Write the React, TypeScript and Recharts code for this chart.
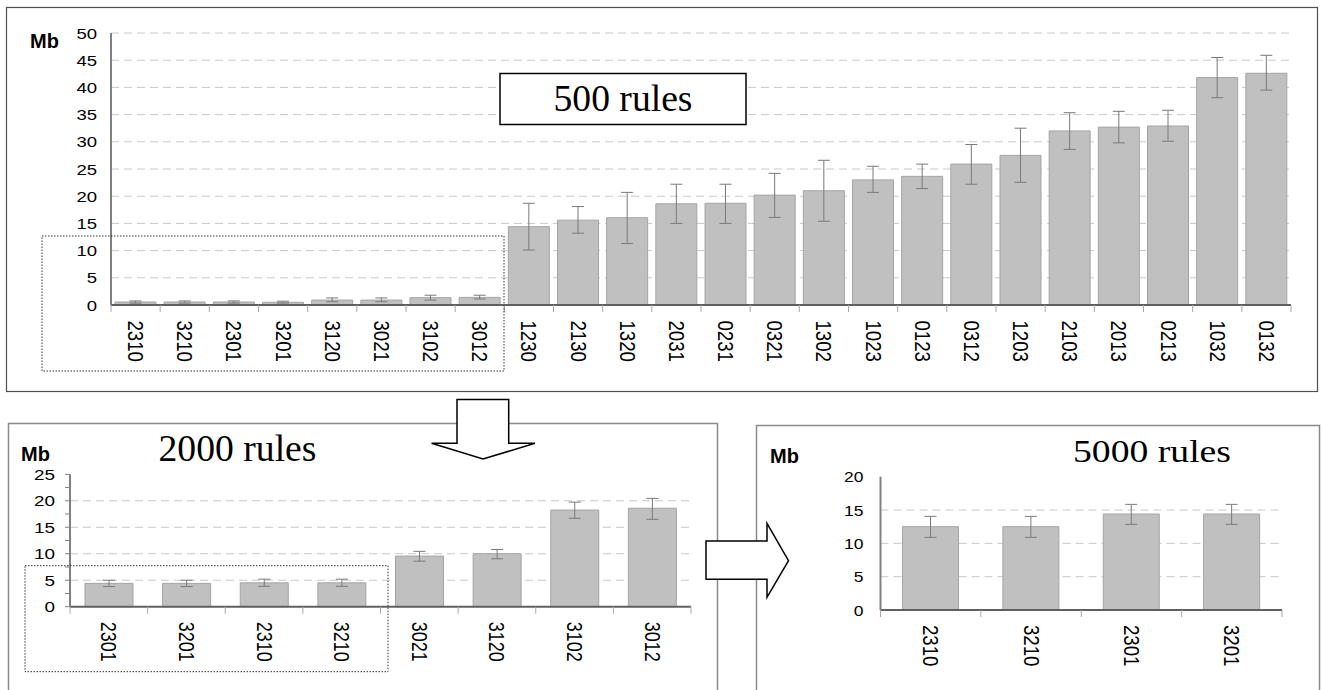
import React from 'react';
import { BarChart, Bar, XAxis, YAxis, CartesianGrid, ErrorBar } from 'recharts';

// ---------- data ----------
const topCategories = ['2310', '3210', '2301', '3201', '3120', '3021', '3102', '3012', '1230', '2130', '1320', '2031', '0231', '0321', '1302', '1023', '0123', '0312', '1203', '2103', '2013', '0213', '1032', '0132'];
const topValues = [0.55, 0.55, 0.55, 0.5, 0.9, 0.9, 1.35, 1.4, 14.4, 15.6, 16.05, 18.6, 18.7, 20.2, 21.0, 23.0, 23.65, 25.9, 27.5, 32.0, 32.7, 32.9, 41.8, 42.6];
const topUpper = [0.75, 0.75, 0.75, 0.7, 1.3, 1.3, 1.8, 1.8, 18.7, 18.1, 20.7, 22.2, 22.2, 24.2, 26.6, 25.5, 25.9, 29.5, 32.5, 35.35, 35.6, 35.8, 45.5, 45.9];
const topLower = [0.35, 0.35, 0.35, 0.35, 0.6, 0.6, 0.9, 1.1, 10.1, 13.2, 11.3, 15.0, 15.0, 16.1, 15.4, 20.7, 21.4, 22.2, 22.55, 28.6, 29.8, 30.1, 38.1, 39.5];
const topTicks = [0, 5, 10, 15, 20, 25, 30, 35, 40, 45, 50];

const midCategories = ['2301', '3201', '2310', '3210', '3021', '3120', '3102', '3012'];
const midValues = [4.4, 4.4, 4.5, 4.5, 9.55, 10.0, 18.25, 18.6];
const midUpper = [5.0, 5.0, 5.2, 5.2, 10.45, 10.8, 19.75, 20.45];
const midLower = [3.8, 3.8, 3.85, 3.85, 8.6, 9.05, 16.7, 16.5];
const midTicks = [0, 2.5, 5, 7.5, 10, 12.5, 15, 17.5, 20, 22.5, 25];
const midGrid = [5, 10, 15, 20];

const rightCategories = ['2310', '3210', '2301', '3201'];
const rightValues = [12.5, 12.5, 14.4, 14.4];
const rightUpper = [14.05, 14.05, 15.85, 15.85];
const rightLower = [10.9, 10.9, 12.85, 12.85];
const rightTicks = [0, 5, 10, 15, 20];
const rightGrid = [5, 10, 15];

const titleTop = '500 rules';
const titleMid = '2000 rules';
const titleRight = '5000 rules';
const unitLabel = 'Mb';

const SANS = '"Liberation Sans", Arial, sans-serif';
const SERIF = '"Liberation Serif", "Times New Roman", serif';

function buildRows(cats: string[], vals: number[], up: number[], lo: number[]) {
  return cats.map((c, i) => ({ name: c, value: vals[i], err: [vals[i] - lo[i], up[i] - vals[i]] }));
}

type PanelProps = {
  left: number; top: number; width: number; height: number;
  margin: { top: number; right: number; bottom: number; left: number };
  yWidth: number;
  rows: any[];
  domain: [number, number];
  ticks: number[];
  gridValues: number[];
  barSize: number;
  capWidth: number;
  yFont: number;
  yDigit: number;
  xFont: number;
  xLen: number;
  labelOffset: number;
  yTickSize: number;
  yTickMargin: number;
  yTickLine: boolean;
};

function Panel(p: PanelProps) {
  const n = p.rows.length;
  const plotW = p.width - p.margin.left - p.margin.right - p.yWidth;
  const band = plotW / n;
  const XTick = (props: any) => {
    const { x, y, payload, index } = props;
    const ty = y + p.labelOffset;
    return (
      <g>
        <line x1={x - band / 2} y1={y} x2={x - band / 2} y2={y + 7} stroke="#a8a8a8" strokeWidth={1} />
        {index === n - 1 ? (
          <line x1={x + band / 2} y1={y} x2={x + band / 2} y2={y + 7} stroke="#a8a8a8" strokeWidth={1} />
        ) : null}
        <text
          x={x}
          y={ty}
          transform={`rotate(90 ${x} ${ty})`}
          textAnchor="start"
          dominantBaseline="central"
          fontSize={p.xFont}
          fontFamily={SANS}
          textLength={p.xLen}
          lengthAdjust="spacingAndGlyphs"
          fill="#000"
        >
          {payload.value}
        </text>
      </g>
    );
  };
  const YTick = (props: any) => {
    const { x, y, payload } = props;
    const v = payload.value as number;
    if (v % 5 !== 0) return <g />;
    const s = String(v);
    return (
      <text
        x={x}
        y={y}
        textAnchor="end"
        dominantBaseline="central"
        fontSize={p.yFont}
        fontFamily={SANS}
        textLength={s.length * p.yDigit}
        lengthAdjust="spacingAndGlyphs"
        fill="#000"
      >
        {s}
      </text>
    );
  };
  return (
    <div style={{ position: 'absolute', left: p.left, top: p.top, width: p.width, height: p.height }}>
      <BarChart width={p.width} height={p.height} data={p.rows} margin={p.margin}>
        <CartesianGrid vertical={false} horizontalValues={p.gridValues} stroke="#c8c8c8" strokeDasharray="8 5" />
        <XAxis
          dataKey="name"
          interval={0}
          height={60}
          tickSize={0}
          tickMargin={0}
          tickLine={false}
          tick={<XTick />}
          axisLine={{ stroke: '#606060', strokeWidth: 2 }}
        />
        <XAxis
          xAxisId="frameTop"
          dataKey="name"
          orientation="top"
          height={0}
          tick={false}
          tickLine={false}
          axisLine={{ stroke: '#808080', strokeWidth: 2 }}
        />
        <YAxis
          width={p.yWidth}
          domain={p.domain}
          ticks={p.ticks}
          interval={0}
          tickSize={p.yTickSize}
          tickMargin={p.yTickMargin}
          tickLine={p.yTickLine ? { stroke: '#808080' } : false}
          tick={<YTick />}
          axisLine={{ stroke: '#808080', strokeWidth: 2 }}
        />
        <YAxis
          yAxisId="frameRight"
          orientation="right"
          width={0}
          domain={p.domain}
          tick={false}
          tickLine={false}
          axisLine={{ stroke: '#808080', strokeWidth: 2 }}
        />
        <Bar dataKey="value" fill="#c0c0c0" stroke="#a4a4a4" strokeWidth={1} barSize={p.barSize} isAnimationActive={false}>
          <ErrorBar dataKey="err" width={p.capWidth} stroke="#7a7a7a" strokeWidth={1} isAnimationActive={false} />
        </Bar>
      </BarChart>
    </div>
  );
}

export default function App() {
  const topRows = buildRows(topCategories, topValues, topUpper, topLower);
  const midRows = buildRows(midCategories, midValues, midUpper, midLower);
  const rightRows = buildRows(rightCategories, rightValues, rightUpper, rightLower);

  return (
    <div style={{ position: 'absolute', left: 0, top: 0, width: 1323, height: 690, background: '#fff', overflow: 'hidden' }}>
      {/* background frames */}
      <svg width={1323} height={690} style={{ position: 'absolute', left: 0, top: 0 }}>
        <rect x={6.5} y={7.5} width={1311} height={384} fill="none" stroke="#505050" strokeWidth={1.2} />
        <rect x={8.5} y={423.5} width={709} height={300} fill="none" stroke="#8a8a8a" strokeWidth={1.5} />
        <rect x={756.5} y={425.5} width={563} height={300} fill="none" stroke="#8a8a8a" strokeWidth={1.5} />
      </svg>

      <Panel
        left={0} top={0} width={1323} height={392}
        margin={{ top: 33, right: 32, bottom: 27, left: 61 }}
        yWidth={50}
        rows={topRows}
        domain={[0, 50]}
        ticks={topTicks}
        gridValues={topTicks}
        barSize={41}
        capWidth={6}
        yFont={15}
        yDigit={10.3}
        xFont={22}
        xLen={41.5}
        labelOffset={15.5}
        yTickSize={0}
        yTickMargin={14}
        yTickLine={false}
      />
      <Panel
        left={0} top={400} width={720} height={290}
        margin={{ top: 74.3, right: 29, bottom: 23.3, left: 30 }}
        yWidth={40}
        rows={midRows}
        domain={[0, 25]}
        ticks={midTicks}
        gridValues={midGrid}
        barSize={48}
        capWidth={6}
        yFont={15}
        yDigit={10.5}
        xFont={22}
        xLen={40}
        labelOffset={15}
        yTickSize={5}
        yTickMargin={10}
        yTickLine={true}
      />
      <Panel
        left={760} top={400} width={563} height={290}
        margin={{ top: 76.7, right: 41, bottom: 20, left: 80.5 }}
        yWidth={40}
        rows={rightRows}
        domain={[0, 20]}
        ticks={rightTicks}
        gridValues={rightGrid}
        barSize={56}
        capWidth={6}
        yFont={15.5}
        yDigit={9.7}
        xFont={22}
        xLen={41.5}
        labelOffset={15}
        yTickSize={0}
        yTickMargin={17}
        yTickLine={false}
      />

      {/* foreground annotations */}
      <svg width={1323} height={690} style={{ position: 'absolute', left: 0, top: 0, pointerEvents: 'none' }}>
        <text x={30} y={48} fontSize={20} fontWeight="bold" fontFamily={SANS} fill="#000">{unitLabel}</text>
        <text x={21} y={460.5} fontSize={20} fontWeight="bold" fontFamily={SANS} fill="#000">{unitLabel}</text>
        <text x={770} y={463} fontSize={20} fontWeight="bold" fontFamily={SANS} fill="#000">{unitLabel}</text>

        <rect x={500} y={73.5} width={246} height={51} fill="#fff" stroke="#000" strokeWidth={1.5} />
        <text x={623} y={110.5} fontSize={38} fontFamily={SERIF} textAnchor="middle" textLength={139} lengthAdjust="spacingAndGlyphs" fill="#000">{titleTop}</text>

        <text x={158.5} y={460.5} fontSize={38} fontFamily={SERIF} textLength={158} lengthAdjust="spacingAndGlyphs" fill="#000">{titleMid}</text>
        <text x={1073} y={461.7} fontSize={31} fontFamily={SERIF} textLength={158} lengthAdjust="spacingAndGlyphs" fill="#000">{titleRight}</text>

        <rect x={42} y={236} width={462} height={135} fill="none" stroke="#333" strokeWidth={1} strokeDasharray="1.5 1.5" />
        <rect x={25} y={565.7} width={363} height={106} fill="none" stroke="#333" strokeWidth={1} strokeDasharray="1.5 1.5" />

        <polygon
          points="457,399.5 508.7,399.5 508.7,443.3 535,443.3 483,459 431.6,443.3 457,443.3"
          fill="#fff" stroke="#000" strokeWidth={1.5} strokeLinejoin="miter"
        />
        <polygon
          points="706,541 767,541 767,523.3 788.5,560.7 767,597.3 767,579.3 706,579.3"
          fill="#fff" stroke="#000" strokeWidth={1.5} strokeLinejoin="miter"
        />
      </svg>
    </div>
  );
}
